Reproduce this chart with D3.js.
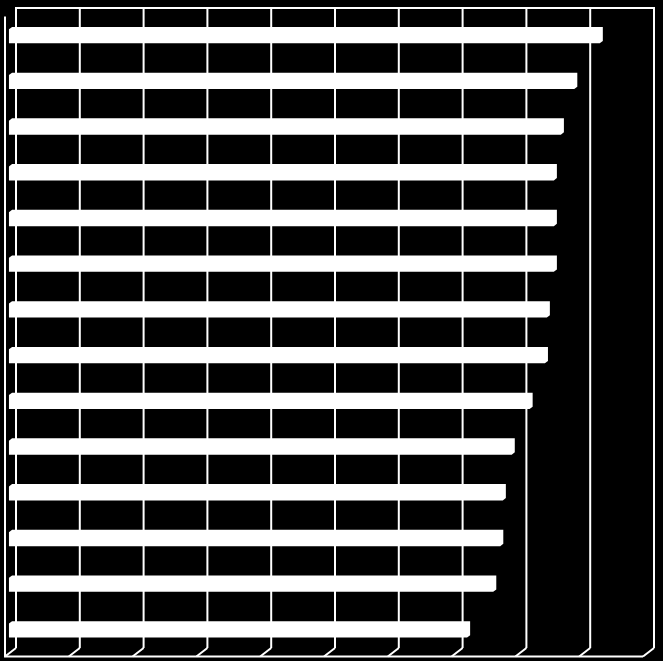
<!DOCTYPE html>
<html>
<head>
<meta charset="utf-8">
<script src="https://cdn.jsdelivr.net/npm/d3@7"></script>
<style>
  html, body { margin: 0; padding: 0; background: #000; }
  svg { display: block; }
</style>
</head>
<body>
<script>
// ---- data ----
const categories = ["A1","A2","A3","A4","A5","A6","A7","A8","A9","A10","A11","A12","A13","A14"];
const values = [9.26, 8.86, 8.65, 8.54, 8.54, 8.54, 8.43, 8.40, 8.16, 7.88, 7.74, 7.70, 7.59, 7.18];
const xTicks = [0,1,2,3,4,5,6,7,8,9,10];

const W = 663, H = 661;
const svg = d3.select("body").append("svg").attr("width", W).attr("height", H);
svg.append("rect").attr("width", W).attr("height", H).attr("fill", "#000");

// back-wall plane scales
const x = d3.scaleLinear().domain([0, 10]).range([16, 654]);
const y = d3.scaleBand().domain(categories).range([8, 648]).paddingInner(0.694).paddingOuter(0.347);

// oblique depth offset from back plane to front plane
const DX = -11, DY = 8.5;
const shift = z => [(1 - z) * DX, (1 - z) * DY]; // z=1 back, z=0 front

const g = svg.append("g");
const stroke = "#fff", sw = 2;

// gridlines on back wall
xTicks.forEach(t => {
  g.append("line").attr("x1", x(t)).attr("x2", x(t)).attr("y1", 8).attr("y2", 648)
    .attr("stroke", stroke).attr("stroke-width", sw);
  // floor diagonals
  g.append("line").attr("x1", x(t)).attr("y1", 648).attr("x2", x(t) + DX).attr("y2", 648 + DY)
    .attr("stroke", stroke).attr("stroke-width", sw);
});
// back wall top
g.append("line").attr("x1", x(0) - 1).attr("x2", x(10) + 1).attr("y1", 8).attr("y2", 8)
  .attr("stroke", stroke).attr("stroke-width", sw);
// front left axis
g.append("line").attr("x1", x(0) + DX).attr("x2", x(0) + DX).attr("y1", 8 + DY).attr("y2", 648 + DY)
  .attr("stroke", stroke).attr("stroke-width", sw);
// front floor edge
g.append("line").attr("x1", x(0) + DX - 1).attr("x2", x(10) + DX).attr("y1", 648 + DY).attr("y2", 648 + DY)
  .attr("stroke", stroke).attr("stroke-width", sw);

// bars (3D, depth from z=0.36 to z=0.64)
const zF = 0.36, zB = 0.64;
const [fx, fy] = shift(zF), [bx, by] = shift(zB);
g.selectAll("polygon.bar").data(categories).join("polygon")
  .attr("class", "bar")
  .attr("fill", "#fff")
  .attr("points", (c, i) => {
    const x0 = x(0), x1 = x(values[i]);
    const y0 = y(c), y1 = y(c) + y.bandwidth();
    return [
      [x0 + fx, y0 + fy],
      [x0 + bx, y0 + by],
      [x1 + bx, y0 + by],
      [x1 + bx, y1 + by],
      [x1 + fx, y1 + fy],
      [x0 + fx, y1 + fy]
    ].map(p => p.join(",")).join(" ");
  });
</script>
</body>
</html>
